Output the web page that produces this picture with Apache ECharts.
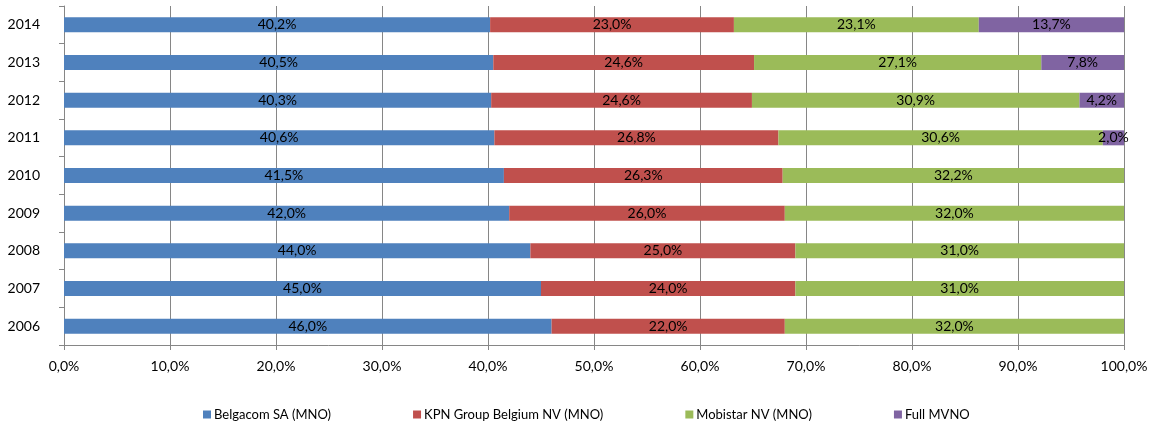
<!DOCTYPE html>
<html>
<head>
<meta charset="utf-8">
<script src="https://cdn.jsdelivr.net/npm/echarts@6/dist/echarts.min.js"></script>
<style>
  html, body { margin: 0; padding: 0; background: #fff; }
  #chart { width: 1158px; height: 427px; }
</style>
</head>
<body>
<div id="chart"></div>
<script>
var years = ['2006', '2007', '2008', '2009', '2010', '2011', '2012', '2013', '2014'];
var belgacom = [46.0, 45.0, 44.0, 42.0, 41.5, 40.6, 40.3, 40.5, 40.2];
var kpn = [22.0, 24.0, 25.0, 26.0, 26.3, 26.8, 24.6, 24.6, 23.0];
var mobistar = [32.0, 31.0, 31.0, 32.0, 32.2, 30.6, 30.9, 27.1, 23.1];
var mvno = [null, null, null, null, null, 2.0, 4.2, 7.8, 13.7];

function pct(v) {
  return v.toFixed(1).replace('.', ',') + '%';
}

var font = 'Lato, "Open Sans", sans-serif';

function makeSeries(name, data, color) {
  return {
    name: name,
    type: 'bar',
    stack: 'total',
    barWidth: 15,
    data: data,
    itemStyle: { color: color },
    label: {
      show: true,
      position: 'inside',
      color: '#000',
      fontSize: 14,
      fontFamily: font,
      formatter: function (p) { return pct(p.value); }
    }
  };
}

var chart = echarts.init(document.getElementById('chart'));
chart.setOption({
  animation: false,
  grid: { left: 64, right: 34, top: 6, bottom: 82 },
  legend: {
    bottom: 1,
    left: 198,
    itemWidth: 8,
    itemHeight: 8,
    itemGap: 82,
    icon: 'rect',
    textStyle: { fontSize: 13, fontFamily: font, color: '#000', padding: [0, 0, 0, -2] },
    data: ['Belgacom SA (MNO)', 'KPN Group Belgium NV (MNO)', 'Mobistar NV (MNO)', 'Full MVNO']
  },
  xAxis: {
    type: 'value',
    min: 0,
    max: 100,
    interval: 10,
    axisLine: { show: true, lineStyle: { color: '#868686' } },
    axisTick: { show: true, length: 5, lineStyle: { color: '#868686' } },
    splitLine: { show: true, lineStyle: { color: '#868686', width: 1 } },
    axisLabel: {
      fontSize: 14,
      fontFamily: font,
      color: '#000',
      margin: 14,
      formatter: function (v) { return pct(v); }
    }
  },
  yAxis: {
    type: 'category',
    data: years,
    axisLine: { show: true, lineStyle: { color: '#868686' } },
    axisTick: { show: true, length: 5, lineStyle: { color: '#868686' } },
    axisLabel: { fontSize: 14, fontFamily: font, color: '#000', margin: 24 }
  },
  series: [
    makeSeries('Belgacom SA (MNO)', belgacom, '#4F81BD'),
    makeSeries('KPN Group Belgium NV (MNO)', kpn, '#C0504D'),
    makeSeries('Mobistar NV (MNO)', mobistar, '#9BBB59'),
    makeSeries('Full MVNO', mvno, '#8064A2')
  ]
});
</script>
</body>
</html>
